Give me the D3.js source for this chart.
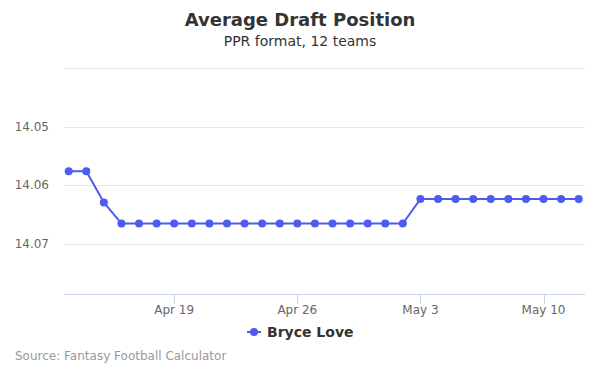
<!DOCTYPE html>
<html>
<head>
<meta charset="utf-8">
<script src="https://cdn.jsdelivr.net/npm/d3@7"></script>
<style>
  body { margin: 0; background: #fff; }
  svg { font-family: "DejaVu Sans", sans-serif; }
</style>
</head>
<body>
<svg width="600" height="375"></svg>
<script>
// data
const dates = ["2019-04-13","2019-04-14","2019-04-15","2019-04-16","2019-04-17","2019-04-18",
  "2019-04-19","2019-04-20","2019-04-21","2019-04-22","2019-04-23","2019-04-24","2019-04-25",
  "2019-04-26","2019-04-27","2019-04-28","2019-04-29","2019-04-30","2019-05-01","2019-05-02",
  "2019-05-03","2019-05-04","2019-05-05","2019-05-06","2019-05-07","2019-05-08","2019-05-09",
  "2019-05-10","2019-05-11","2019-05-12"];
const adp = [14.0576, 14.0576, 14.0629, 14.0665, 14.0665, 14.0665,
  14.0665, 14.0665, 14.0665, 14.0665, 14.0665, 14.0665, 14.0665,
  14.0665, 14.0665, 14.0665, 14.0665, 14.0665, 14.0665, 14.0665,
  14.0623, 14.0623, 14.0623, 14.0623, 14.0623, 14.0623, 14.0623,
  14.0623, 14.0623, 14.0623];
const yTicks = [14.04, 14.05, 14.06, 14.07];
const xTicks = ["2019-04-19", "2019-04-26", "2019-05-03", "2019-05-10"];
const seriesName = "Bryce Love";

const svg = d3.select("svg");
const color = "#4c5bf0";
const parse = d3.utcParse("%Y-%m-%d");
const data = dates.map((d, i) => ({ date: parse(d), value: adp[i] }));

const plotLeft = 64, plotRight = 585, plotTop = 68, plotBottom = 294;

// x: points sit a little inside the plot area
const x = d3.scaleUtc()
  .domain([parse(dates[0]), parse(dates[dates.length - 1])])
  .range([68.7, 578.7]);

// y reversed: smaller ADP at top
const y = d3.scaleLinear()
  .domain([14.04, 14.0785])
  .range([plotTop, plotBottom]);

// title
svg.append("text")
  .attr("x", 300).attr("y", 26)
  .attr("text-anchor", "middle")
  .attr("fill", "#333").attr("font-size", 18).attr("font-weight", "bold")
  .text("Average Draft Position");
svg.append("text")
  .attr("x", 300).attr("y", 46)
  .attr("text-anchor", "middle")
  .attr("fill", "#333").attr("font-size", 14)
  .text("PPR format, 12 teams");

// grid + y labels
const yAxis = svg.append("g");
yAxis.selectAll("line")
  .data(yTicks)
  .join("line")
  .attr("x1", plotLeft).attr("x2", plotRight)
  .attr("y1", d => Math.round(y(d)) + 0.5).attr("y2", d => Math.round(y(d)) + 0.5)
  .attr("stroke", "#e6e6e6");
yAxis.selectAll("text")
  .data(yTicks.slice(1))
  .join("text")
  .attr("x", 49).attr("y", d => y(d) + 4)
  .attr("text-anchor", "end")
  .attr("fill", "#666").attr("font-size", 12)
  .text(d => d3.format(".2f")(d));

// x axis
const xAxis = svg.append("g");
xAxis.append("line")
  .attr("x1", plotLeft).attr("x2", plotRight)
  .attr("y1", plotBottom + 0.5).attr("y2", plotBottom + 0.5)
  .attr("stroke", "#ccd6eb");
const xt = xTicks.map(parse);
xAxis.selectAll(".tick")
  .data(xt)
  .join("line")
  .attr("x1", d => Math.round(x(d)) + 0.5).attr("x2", d => Math.round(x(d)) + 0.5)
  .attr("y1", plotBottom).attr("y2", plotBottom + 10)
  .attr("stroke", "#ccd6eb");
xAxis.selectAll("text")
  .data(xt)
  .join("text")
  .attr("x", d => x(d)).attr("y", plotBottom + 20)
  .attr("text-anchor", "middle")
  .attr("fill", "#666").attr("font-size", 12)
  .text(d => d3.utcFormat("%b %-d")(d));

// series
const line = d3.line().x(d => x(d.date)).y(d => y(d.value));
svg.append("path")
  .datum(data)
  .attr("d", line)
  .attr("fill", "none")
  .attr("stroke", color)
  .attr("stroke-width", 2);
svg.selectAll(".pt")
  .data(data)
  .join("circle")
  .attr("cx", d => x(d.date)).attr("cy", d => y(d.value))
  .attr("r", 4)
  .attr("fill", color);

// legend
const lg = svg.append("g").attr("transform", "translate(254,332)");
lg.append("line").attr("x1", -7).attr("x2", 7).attr("stroke", color).attr("stroke-width", 2);
lg.append("circle").attr("r", 4).attr("fill", color);
lg.append("text")
  .attr("x", 13).attr("y", 5)
  .attr("fill", "#333").attr("font-size", 14).attr("font-weight", "bold")
  .text(seriesName);

// credits
svg.append("text")
  .attr("x", 15).attr("y", 360)
  .attr("fill", "#999").attr("font-size", 12)
  .text("Source: Fantasy Football Calculator");
</script>
</body>
</html>
